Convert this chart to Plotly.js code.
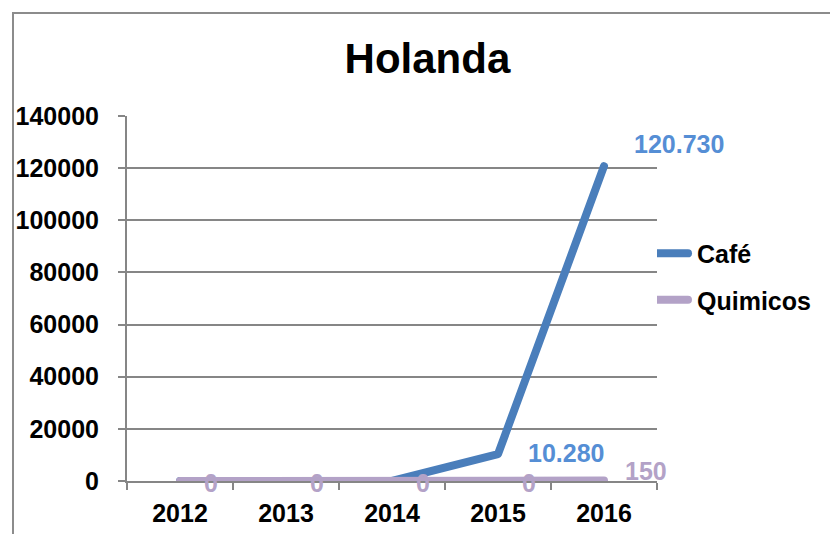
<!DOCTYPE html>
<html>
<head>
<meta charset="utf-8">
<script src="https://cdn.plot.ly/plotly-3.0.1.min.js"></script>
<style>
  html, body { margin: 0; padding: 0; background: #fff; }
  #wrap { position: relative; width: 830px; height: 534px; overflow: hidden; }
  #chart { width: 830px; height: 534px; }
  #frame { position: absolute; left: 12px; top: 12px; width: 830px; height: 540px;
           border-left: 2px solid #8c8c8c; border-top: 2px solid #8c8c8c; pointer-events: none; }
  #chart .legendlines path { stroke-width: 8px !important; stroke-linecap: round; }
  #chart .scatterlayer .js-line { stroke-linecap: round; stroke-linejoin: round; }
</style>
</head>
<body>
<div id="wrap"><div id="chart"></div><div id="frame"></div></div>
<script>
const years = ["2012", "2013", "2014", "2015", "2016"];
const cafe = [0, 0, 0, 10280, 120730];
const quimicos = [0, 0, 0, 0, 150];
const cafeLabels = ["", "", "", "10.280", "120.730"];
const quimicosLabels = ["0", "0", "0", "0", "150"];
const yTicks = [0, 20000, 40000, 60000, 80000, 100000, 120000, 140000];

const blue = "#4a7ebb";
const blueLabel = "#558ed5";
const purple = "#b3a2c7";
const font = "Liberation Sans, Arial, sans-serif";
const fs = 25;

const traces = [
  { x: years, y: cafe, name: "<b>Café</b>", legendgroup: "a", type: "scatter", mode: "lines",
    line: { color: blue, width: 8 }, hoverinfo: "skip" },
  { x: years, y: quimicos, name: "<b>Quimicos</b>", legendgroup: "b", type: "scatter", mode: "lines",
    line: { color: purple, width: 8 }, hoverinfo: "skip" }
];

const annotations = [];
cafeLabels.forEach((t, i) => {
  if (!t) return;
  annotations.push({ xref: "x", yref: "y", x: i, y: cafe[i], text: "<b>" + t + "</b>", showarrow: false,
    xanchor: "left", yanchor: "middle", xshift: 28, yshift: i === 4 ? 22 : 1,
    font: { family: font, size: fs, color: blueLabel } });
});
quimicosLabels.forEach((t, i) => {
  annotations.push({ xref: "x", yref: "y", x: i, y: quimicos[i], text: "<b>" + t + "</b>", showarrow: false,
    xanchor: "left", yanchor: "middle", xshift: i === 4 ? 19 : 22, yshift: i === 4 ? 10 : -2,
    font: { family: font, size: fs, color: purple } });
});

const layout = {
  width: 830, height: 534,
  margin: { l: 127, r: 173, t: 116, b: 53 },
  paper_bgcolor: "#fff", plot_bgcolor: "#fff",
  title: { text: "<b>Holanda</b>", x: 0.515, xanchor: "center", y: 0.89, yanchor: "middle",
           font: { family: font, size: 42, color: "#000" } },
  showlegend: true,
  legend: { x: 1.0, xanchor: "left", y: 0.56, yanchor: "middle",
            font: { family: font, size: fs, color: "#000" }, tracegroupgap: 11,
            bgcolor: "rgba(0,0,0,0)", itemclick: false },
  xaxis: { type: "category", range: [-0.5, 4.5], showgrid: false, zeroline: false,
           showline: true, linecolor: "#868686", linewidth: 2,
           ticks: "outside", tickson: "boundaries", ticklen: 7, tickcolor: "#868686", tickwidth: 2,
           ticklabelstandoff: 9,
           tickfont: { family: font, size: fs, color: "#000" }, tickprefix: "<b>", ticksuffix: "</b>" },
  yaxis: { range: [0, 140000], tickvals: yTicks, ticktext: yTicks.map(v => "<b>" + v + "</b>"),
           showgrid: true, gridcolor: "#868686", gridwidth: 2, zeroline: false,
           showline: true, linecolor: "#868686", linewidth: 2,
           ticks: "outside", ticklen: 7, tickcolor: "#868686", tickwidth: 2,
           ticklabelstandoff: 14,
           tickfont: { family: font, size: fs, color: "#000" } },
  annotations: annotations
};

const gdEl = document.getElementById("chart");

function polish() {
  gdEl.querySelectorAll(".cartesianlayer .plot").forEach(el => el.removeAttribute("clip-path"));
  gdEl.querySelectorAll(".legendlines path").forEach(p => {
    p.setAttribute("d", "M-22,0h53");
  });
}

Plotly.newPlot(gdEl, traces, layout, { displayModeBar: false, staticPlot: true });
polish();
gdEl.on && gdEl.on("plotly_afterplot", polish);
Promise.resolve().then(polish);
setTimeout(polish, 0);
setTimeout(polish, 100);
</script>
</body>
</html>
